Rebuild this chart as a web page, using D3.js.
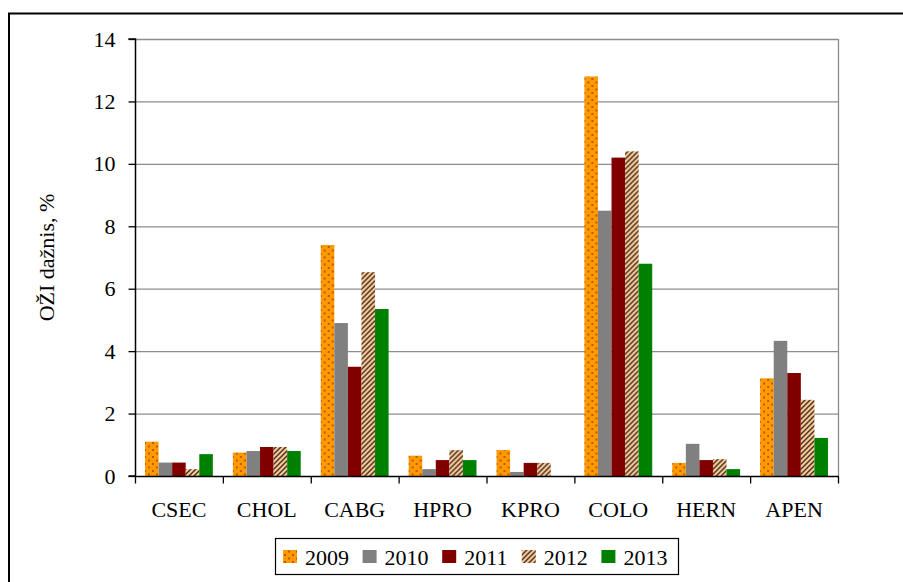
<!DOCTYPE html>
<html>
<head>
<meta charset="utf-8">
<script src="https://cdn.jsdelivr.net/npm/d3@7"></script>
<style>
  html, body { margin: 0; padding: 0; background: #fff; }
  svg { display: block; font-family: "Liberation Serif", "Times New Roman", serif; }
</style>
</head>
<body>
<svg id="chart" width="903" height="582"></svg>
<script>
// Surgical procedure categories
const categories = ["CSEC", "CHOL", "CABG", "HPRO", "KPRO", "COLO", "HERN", "APEN"];
const years = ["2009", "2010", "2011", "2012", "2013"];

// Infection rate (%) per category, one array per year
const v2009 = [1.1, 0.75, 7.4, 0.65, 0.83, 12.8, 0.42, 3.13];
const v2010 = [0.43, 0.8, 4.9, 0.22, 0.13, 8.5, 1.03, 4.33];
const v2011 = [0.43, 0.93, 3.5, 0.51, 0.42, 10.2, 0.51, 3.3];
const v2012 = [0.22, 0.93, 6.53, 0.83, 0.42, 10.4, 0.54, 2.44];
const v2013 = [0.7, 0.8, 5.35, 0.51, 0, 6.8, 0.22, 1.22];
const seriesValues = [v2009, v2010, v2011, v2012, v2013];

const yTicks = [0, 2, 4, 6, 8, 10, 12, 14];
const yLabel = "OŽI dažnis, %";
const FONT = "Liberation Serif, Times New Roman, serif";
const FS = 22;

const svg = d3.select("#chart");
const defs = svg.append("defs");

// Dotted orange fill
const pDots = defs.append("pattern").attr("id", "pat2009")
  .attr("patternUnits", "userSpaceOnUse").attr("width", 8).attr("height", 7);
pDots.append("rect").attr("width", 8).attr("height", 7).attr("fill", "#FF9900");
pDots.append("rect").attr("x", 1).attr("y", 1).attr("width", 2).attr("height", 2).attr("fill", "#C05A00");
pDots.append("rect").attr("x", 5).attr("y", 4.5).attr("width", 2).attr("height", 2).attr("fill", "#C05A00");

// Diagonal hatch on peach
const pHatch = defs.append("pattern").attr("id", "pat2012")
  .attr("patternUnits", "userSpaceOnUse").attr("width", 5).attr("height", 5);
pHatch.append("rect").attr("width", 5).attr("height", 5).attr("fill", "#FFCC99");
pHatch.append("path").attr("d", "M-1,1 l2,-2 M0,5 l5,-5 M4,6 l2,-2")
  .attr("stroke", "#3a2a1e").attr("stroke-width", 1.4);

const fills = ["url(#pat2009)", "#808080", "#800000", "url(#pat2012)", "#008000"];

// Outer frame (extends beyond the right and bottom edges)
svg.append("path").attr("d", "M9,590 V13.5 H910")
  .attr("fill", "none").attr("stroke", "#000").attr("stroke-width", 2);

const plotLeft = 135, plotRight = 838, plotTop = 39, plotBottom = 476;

const x0 = d3.scaleBand().domain(categories).range([plotLeft, plotRight]).padding(0);
const bw = x0.bandwidth();
const x1 = d3.scaleBand().domain(years).range([bw * 0.114, bw * 0.886]).padding(0);
const y = d3.scaleLinear().domain([0, 14]).range([plotBottom, plotTop]);

// Gridlines
svg.append("g").selectAll("line").data(yTicks.filter(d => d > 0)).join("line")
  .attr("x1", plotLeft).attr("x2", plotRight)
  .attr("y1", d => y(d) + 0.5).attr("y2", d => y(d) + 0.5)
  .attr("stroke", "#8c8c8c").attr("stroke-width", 1.3);
// Right border of plot area
svg.append("line").attr("x1", plotRight + 0.5).attr("x2", plotRight + 0.5)
  .attr("y1", plotTop).attr("y2", plotBottom).attr("stroke", "#8c8c8c").attr("stroke-width", 1.3);

// Bars
const groups = svg.append("g").selectAll("g").data(categories).join("g")
  .attr("transform", c => `translate(${x0(c)},0)`);
groups.selectAll("rect")
  .data((c, i) => years.map((yr, k) => ({ yr, k, v: seriesValues[k][i] })))
  .join("rect")
  .attr("x", d => x1(d.yr))
  .attr("width", x1.bandwidth())
  .attr("y", d => y(d.v))
  .attr("height", d => y(0) - y(d.v))
  .attr("fill", d => fills[d.k]);

// Y axis
const yAxis = d3.axisLeft(y).tickValues(yTicks).tickSize(7).tickPadding(13).tickFormat(d3.format("d"));
const gy = svg.append("g").attr("transform", `translate(${plotLeft + 0.5},0)`).call(yAxis);
gy.attr("font-family", FONT).attr("font-size", FS);
gy.select(".domain").attr("stroke", "#000").attr("stroke-width", 1.5).attr("d", `M-7,${plotTop}H0V${plotBottom}H-7`);
gy.selectAll(".tick line").attr("stroke", "#000").attr("stroke-width", 1.3);
gy.selectAll(".tick text").attr("fill", "#000");

// X axis: ticks at category boundaries
const gx = svg.append("g").attr("transform", `translate(0,${plotBottom + 0.5})`);
gx.append("line").attr("x1", plotLeft).attr("x2", plotRight + 1).attr("stroke", "#000").attr("stroke-width", 1.5);
gx.selectAll("line.tk").data(categories.map(c => x0(c)).concat([plotRight]))
  .join("line").attr("class", "tk")
  .attr("x1", d => d + 0.5).attr("x2", d => d + 0.5).attr("y1", 0).attr("y2", 7)
  .attr("stroke", "#000").attr("stroke-width", 1.3);
gx.selectAll("text").data(categories).join("text")
  .attr("x", c => x0(c) + bw / 2).attr("y", 40.5)
  .attr("text-anchor", "middle").attr("font-size", FS).attr("fill", "#000")
  .text(c => c);

// Y axis title
svg.append("text")
  .attr("transform", `translate(54,${(plotTop + plotBottom) / 2}) rotate(-90)`)
  .attr("text-anchor", "middle").attr("font-size", FS).attr("fill", "#000")
  .text(yLabel);

// Legend
const lg = svg.append("g");
lg.append("rect").attr("x", 275.5).attr("y", 538.5).attr("width", 403).attr("height", 36)
  .attr("fill", "#fff").attr("stroke", "#000").attr("stroke-width", 1.2);
const items = lg.selectAll("g").data(years).join("g")
  .attr("transform", (d, i) => `translate(${283 + i * 79.6},0)`);
items.append("rect").attr("x", 0).attr("y", 550).attr("width", 14).attr("height", 13)
  .attr("fill", (d, i) => fills[i]);
items.append("text").attr("x", 22).attr("y", 565).attr("font-size", FS).attr("fill", "#000")
  .text(d => d);
</script>
</body>
</html>
